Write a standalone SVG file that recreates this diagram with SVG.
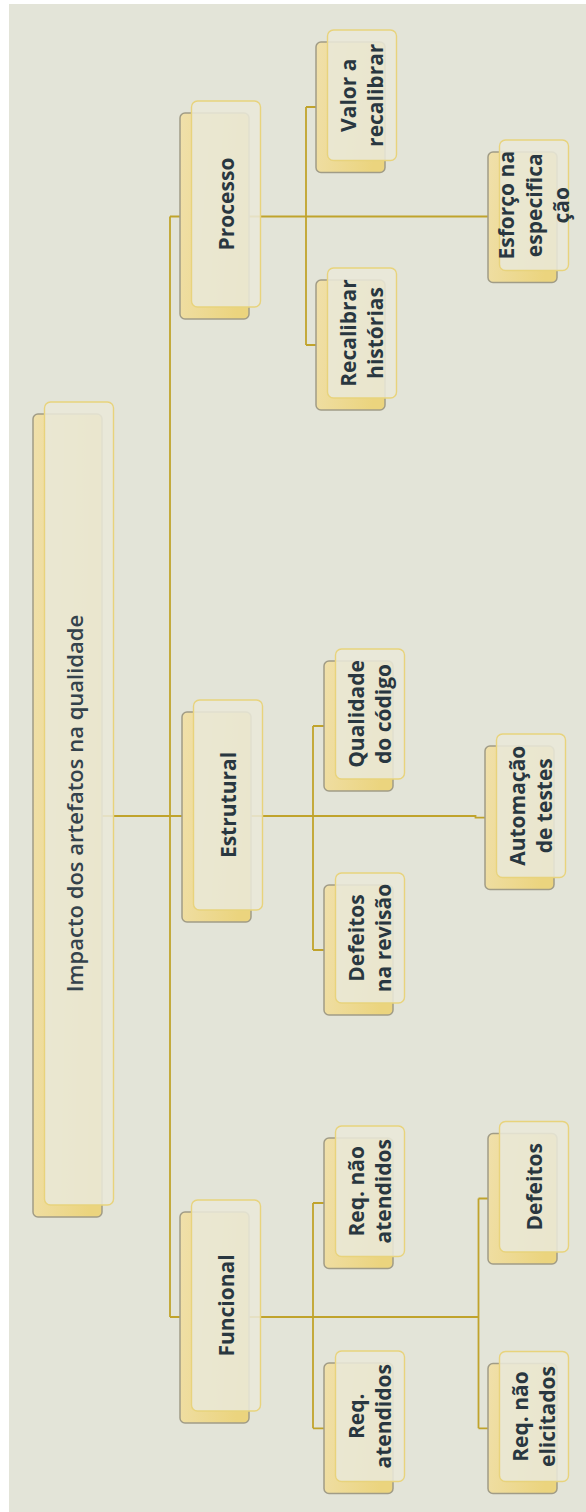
<svg xmlns="http://www.w3.org/2000/svg" width="586" height="1512" viewBox="0 0 586 1512">
  <defs>
    <linearGradient id="gold" x1="0" y1="0" x2="1" y2="0.25">
      <stop offset="0" stop-color="#f0e0ab"/>
      <stop offset="1" stop-color="#ebd47e"/>
    </linearGradient>
  </defs>
  <style>
    .back{fill:url(#gold);stroke:#a19c86;stroke-width:1.5}
    .front{fill:#e9e8d8;fill-opacity:0.88;stroke:#e8d37c;stroke-width:1.4}
    .lbl{font-family:"Open Sans","Noto Sans",sans-serif;font-weight:700;font-size:21px;fill:#293740;text-anchor:middle}
    .title{font-family:"Open Sans","Noto Sans",sans-serif;font-weight:600;font-size:22px;fill:#34424b;text-anchor:middle}
    .conn{fill:none;stroke:#c0a32c;stroke-width:1.8}
  </style>

  <!-- canvas -->
  <rect x="0" y="0" width="586" height="1512" fill="#ffffff"/>
  <rect x="9" y="4" width="577" height="1508" fill="#e3e4d8"/>

  <!-- tree connectors -->
  <g id="connectors" class="conn">
    <path d="M102,816 H170"/>
    <path d="M170,216.5 V1317"/>
    <path d="M170,216.5 H180 M170,816 H182 M170,1317 H180"/>
    <path d="M249,216.5 H488"/>
    <path d="M306,107 V345 M306,107 H316 M306,345 H316"/>
    <path d="M251,816 H475.5 V817.7 H485"/>
    <path d="M313,726 V950 M313,726 H324 M313,950 H324"/>
    <path d="M249,1317 H478.5"/>
    <path d="M313,1203 V1428.3 M313,1203 H324 M313,1428.3 H324"/>
    <path d="M478.5,1198.5 V1428.3 M478.5,1198.5 H488 M478.5,1428.3 H488"/>
  </g>

  <!-- root -->
  <g id="root">
    <rect class="back" x="33" y="414" width="69" height="803" rx="5"/>
    <rect class="front" x="44.5" y="402" width="69" height="803" rx="6"/>
    <text class="title" transform="translate(79,803.5) rotate(-90)" x="0" y="3.5">Impacto dos artefatos na qualidade</text>
  </g>

  <!-- branch: Processo -->
  <g id="processo">
    <rect class="back" x="180" y="113" width="69" height="206" rx="5"/>
    <rect class="front" x="191.5" y="101" width="69" height="206" rx="6"/>
    <text class="lbl" transform="translate(226,204) rotate(-90)" x="0" y="7.5">Processo</text>
  </g>
  <g id="valor-recalibrar">
    <rect class="back" x="316" y="42" width="69" height="130.5" rx="5"/>
    <rect class="front" x="327.5" y="30" width="69" height="130.5" rx="6"/>
    <text class="lbl" transform="translate(362,95.25) rotate(-90)"><tspan x="0" y="-6.25">Valor a</tspan><tspan x="0" dy="27.5">recalibrar</tspan></text>
  </g>
  <g id="recalibrar-historias">
    <rect class="back" x="316" y="280" width="69" height="130" rx="5"/>
    <rect class="front" x="327.5" y="268" width="69" height="130" rx="6"/>
    <text class="lbl" transform="translate(362,333) rotate(-90)"><tspan x="0" y="-6.25">Recalibrar</tspan><tspan x="0" dy="27.5">histórias</tspan></text>
  </g>
  <g id="esforco-especificacao">
    <rect class="back" x="488" y="152" width="69" height="130.5" rx="5"/>
    <rect class="front" x="499.5" y="140" width="69" height="130.5" rx="6"/>
    <text class="lbl" transform="translate(534,205.25) rotate(-90)"><tspan x="0" y="-20">Esforço na</tspan><tspan x="0" dy="27.5">especifica</tspan><tspan x="0" dy="27.5">ção</tspan></text>
  </g>

  <!-- branch: Estrutural -->
  <g id="estrutural">
    <rect class="back" x="182" y="712" width="69" height="210" rx="5"/>
    <rect class="front" x="193.5" y="700" width="69" height="210" rx="6"/>
    <text class="lbl" transform="translate(228,805) rotate(-90)" x="0" y="7.5">Estrutural</text>
  </g>
  <g id="qualidade-codigo">
    <rect class="back" x="324" y="661" width="69" height="130" rx="5"/>
    <rect class="front" x="335.5" y="649" width="69" height="130" rx="6"/>
    <text class="lbl" transform="translate(370,714) rotate(-90)"><tspan x="0" y="-6.25">Qualidade</tspan><tspan x="0" dy="27.5">do código</tspan></text>
  </g>
  <g id="defeitos-revisao">
    <rect class="back" x="324" y="885" width="69" height="130" rx="5"/>
    <rect class="front" x="335.5" y="873" width="69" height="130" rx="6"/>
    <text class="lbl" transform="translate(370,938) rotate(-90)"><tspan x="0" y="-6.25">Defeitos</tspan><tspan x="0" dy="27.5">na revisão</tspan></text>
  </g>
  <g id="automacao-testes">
    <rect class="back" x="485" y="746" width="69" height="143.5" rx="5"/>
    <rect class="front" x="496.5" y="734" width="69" height="143.5" rx="6"/>
    <text class="lbl" transform="translate(531,805.75) rotate(-90)"><tspan x="0" y="-6.25">Automação</tspan><tspan x="0" dy="27.5">de testes</tspan></text>
  </g>

  <!-- branch: Funcional -->
  <g id="funcional">
    <rect class="back" x="180" y="1212" width="69" height="211" rx="5"/>
    <rect class="front" x="191.5" y="1200" width="69" height="211" rx="6"/>
    <text class="lbl" transform="translate(226,1305.5) rotate(-90)" x="0" y="7.5">Funcional</text>
  </g>
  <g id="req-nao-atendidos">
    <rect class="back" x="324" y="1138" width="69" height="130.5" rx="5"/>
    <rect class="front" x="335.5" y="1126" width="69" height="130.5" rx="6"/>
    <text class="lbl" transform="translate(370,1191.25) rotate(-90)"><tspan x="0" y="-6.25">Req. não</tspan><tspan x="0" dy="27.5">atendidos</tspan></text>
  </g>
  <g id="req-atendidos">
    <rect class="back" x="324" y="1363" width="69" height="130.5" rx="5"/>
    <rect class="front" x="335.5" y="1351" width="69" height="130.5" rx="6"/>
    <text class="lbl" transform="translate(370,1416.25) rotate(-90)"><tspan x="0" y="-6.25">Req.</tspan><tspan x="0" dy="27.5">atendidos</tspan></text>
  </g>
  <g id="defeitos">
    <rect class="back" x="488" y="1133.5" width="69" height="130.5" rx="5"/>
    <rect class="front" x="499.5" y="1121.5" width="69" height="130.5" rx="6"/>
    <text class="lbl" transform="translate(534,1186.75) rotate(-90)" x="0" y="7.5">Defeitos</text>
  </g>
  <g id="req-nao-elicitados">
    <rect class="back" x="488" y="1363.5" width="69" height="130" rx="5"/>
    <rect class="front" x="499.5" y="1351.5" width="69" height="130" rx="6"/>
    <text class="lbl" transform="translate(534,1416.5) rotate(-90)"><tspan x="0" y="-6.25">Req. não</tspan><tspan x="0" dy="27.5">elicitados</tspan></text>
  </g>
</svg>
